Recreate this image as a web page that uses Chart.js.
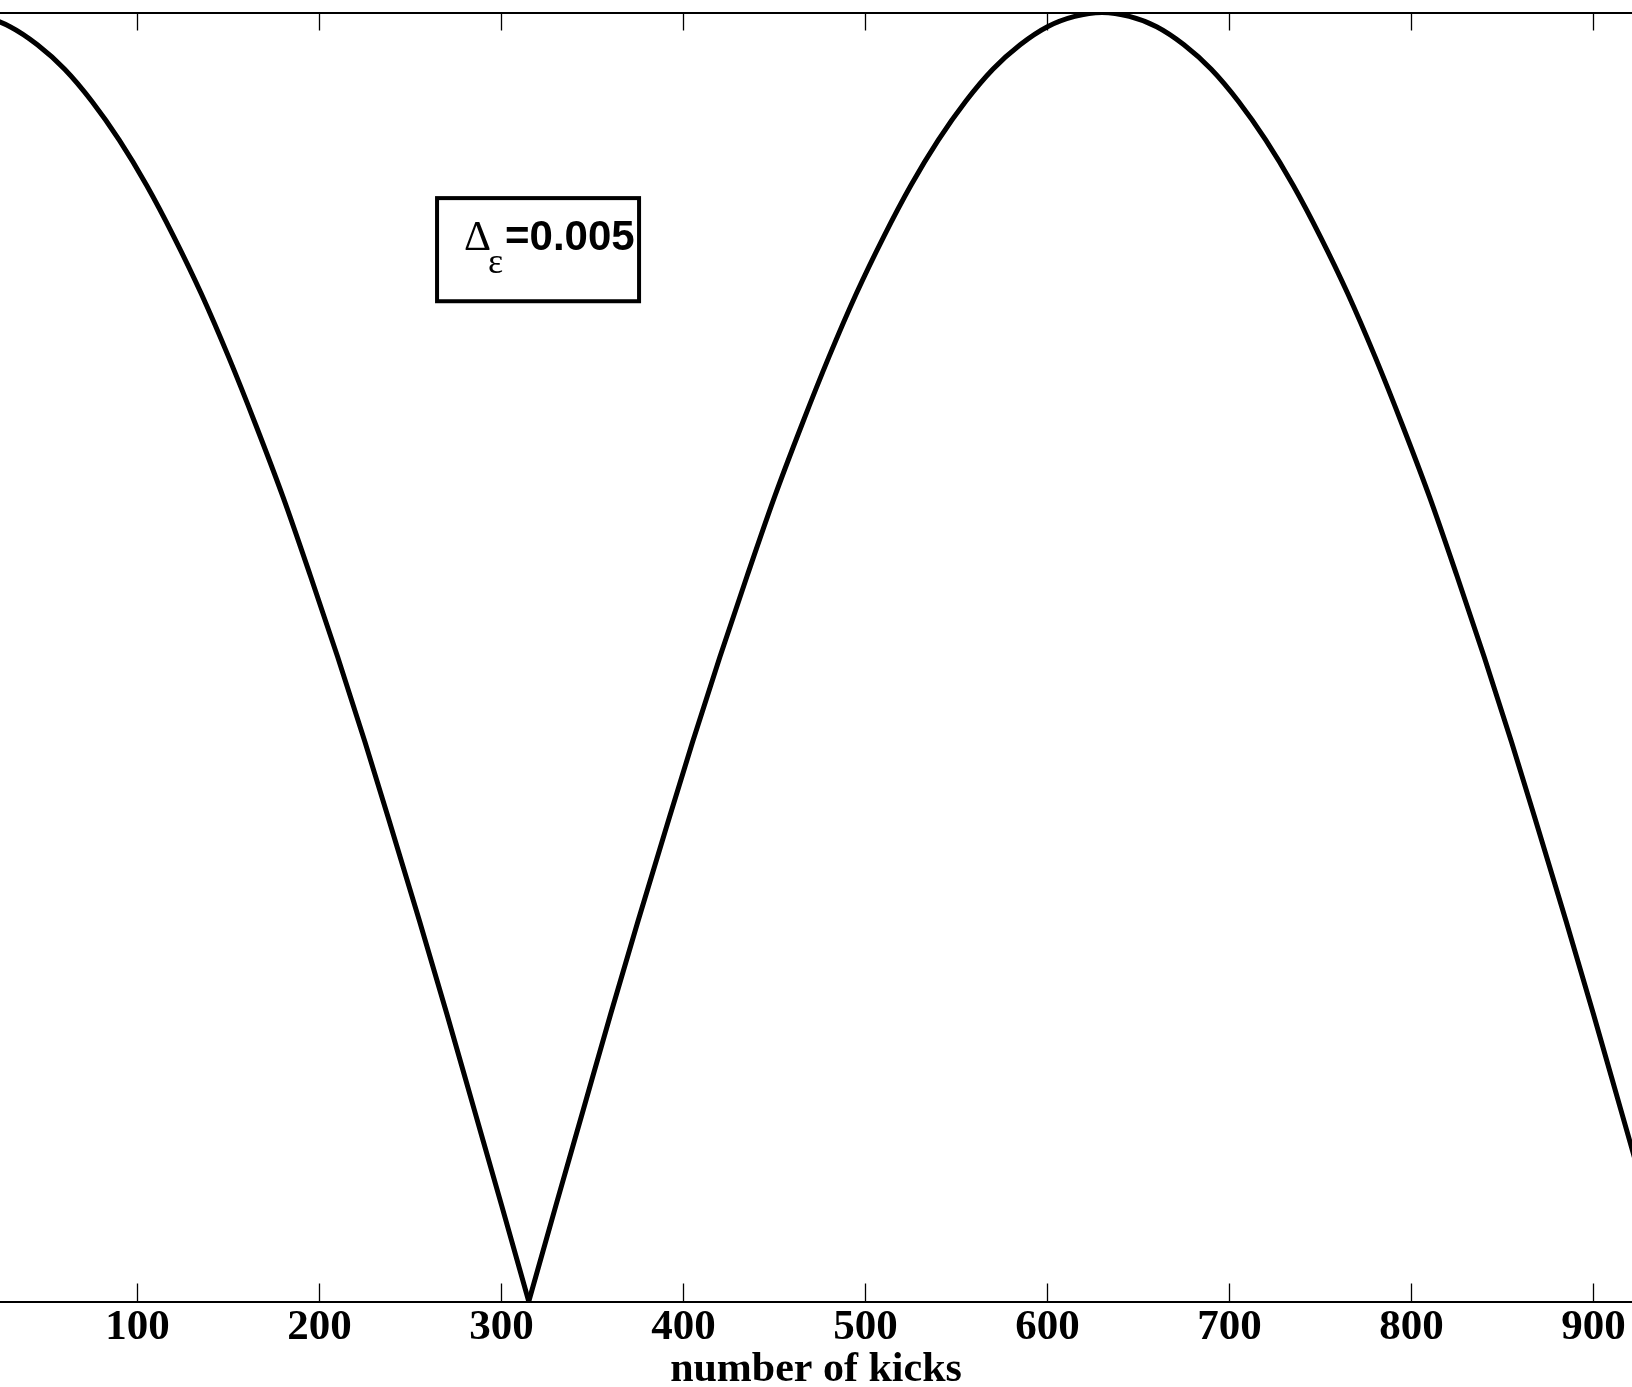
<!DOCTYPE html>
<html>
<head>
<meta charset="utf-8">
<script src="https://cdn.jsdelivr.net/npm/chart.js@4.4.1/dist/chart.umd.min.js"></script>
<style>
  html, body { margin: 0; padding: 0; background: #fff; }
  canvas { display: block; }
</style>
</head>
<body>
<canvas id="kicksChart" width="1632" height="1387"></canvas>
<script>
// valeurs
const kicks = [0, 15, 30, 45, 60, 75, 90, 105, 120, 135, 150, 165, 180, 195, 210, 225, 240, 255, 270, 285, 300, 315,
  330, 345, 360, 375, 390, 405, 420, 435, 450, 465, 480, 495, 510, 525, 540, 555, 570, 585, 600, 615, 630,
  645, 660, 675, 690, 705, 720, 735, 750, 765, 780, 795, 810, 825, 840, 855, 870, 885, 900, 915, 930];
const fidelity = [1.000, 0.997, 0.989, 0.975, 0.956, 0.931, 0.901, 0.866, 0.826, 0.782, 0.733, 0.680, 0.624, 0.563, 0.500, 0.434, 0.365, 0.295, 0.223, 0.149, 0.075, 0.000,
  0.075, 0.149, 0.223, 0.295, 0.365, 0.434, 0.500, 0.563, 0.624, 0.680, 0.733, 0.782, 0.826, 0.866, 0.901, 0.931, 0.956, 0.975, 0.989, 0.997, 1.000,
  0.997, 0.989, 0.975, 0.956, 0.931, 0.901, 0.866, 0.826, 0.782, 0.733, 0.680, 0.624, 0.563, 0.500, 0.434, 0.365, 0.295, 0.223, 0.149, 0.075];
const tickValues = [100, 200, 300, 400, 500, 600, 700, 800, 900];
const xRange = [24.45, 921.2];
const yRange = [0, 1];

// la courbe est coupée au creux (valeur 0) pour garder la pointe nette
const points = kicks.map((k, i) => ({x: k, y: fidelity[i]}));
const cusp = fidelity.indexOf(0);

// petits traits de graduation vers l'intérieur, en haut et en bas
const innerTicks = {
  id: 'innerTicks',
  afterDraw(chart) {
    const ctx = chart.ctx, x = chart.scales.x, area = chart.chartArea;
    ctx.save();
    ctx.strokeStyle = '#000';
    ctx.lineWidth = 1.3;
    x.ticks.forEach(t => {
      const px = Math.round(x.getPixelForValue(t.value)) + 0.5;
      ctx.beginPath();
      ctx.moveTo(px, area.bottom);
      ctx.lineTo(px, area.bottom - 18);
      ctx.moveTo(px, area.top);
      ctx.lineTo(px, area.top + 18);
      ctx.stroke();
    });
    ctx.restore();
  }
};

// cadre "Δε=0.005"
const deltaBox = {
  id: 'deltaBox',
  afterDatasetsDraw(chart) {
    const {ctx, scales: {x, y}} = chart;
    const left = x.getPixelForValue(264.6), right = x.getPixelForValue(375.6);
    const top = y.getPixelForValue(0.856), bottom = y.getPixelForValue(0.776);
    ctx.save();
    ctx.lineWidth = 4;
    ctx.strokeStyle = '#000';
    ctx.strokeRect(left, top, right - left, bottom - top);
    ctx.fillStyle = '#000';
    ctx.textBaseline = 'alphabetic';
    ctx.font = '42px "Liberation Serif"';
    ctx.fillText('Δ', left + 27, top + 52);
    ctx.font = '36px "Liberation Serif"';
    ctx.fillText('ε', left + 51, top + 75);
    ctx.font = 'bold 42px "Liberation Sans"';
    ctx.fillText('=0.005', left + 68, top + 52);
    ctx.restore();
  }
};

const lineStyle = {
  borderColor: '#000',
  borderWidth: 5,
  pointRadius: 0,
  fill: false,
  cubicInterpolationMode: 'monotone'
};

new Chart(document.getElementById('kicksChart'), {
  type: 'line',
  data: {
    datasets: [
      Object.assign({ data: points.slice(0, cusp + 1) }, lineStyle),
      Object.assign({ data: points.slice(cusp) }, lineStyle)
    ]
  },
  options: {
    responsive: false,
    animation: false,
    devicePixelRatio: 1,
    layout: { padding: { top: 12.5, bottom: 4, left: 0, right: 0 } },
    plugins: { legend: { display: false }, tooltip: { enabled: false } },
    scales: {
      x: {
        type: 'linear',
        position: 'bottom',
        min: xRange[0],
        max: xRange[1],
        afterBuildTicks: axis => { axis.ticks = tickValues.map(v => ({value: v})); },
        grid: { drawOnChartArea: false, drawTicks: false },
        border: { color: '#000', width: 2 },
        ticks: {
          color: '#000',
          padding: 5,
          maxRotation: 0,
          autoSkip: false,
          font: { family: 'Liberation Serif', weight: 'bold', size: 43, lineHeight: '43px' }
        },
        title: {
          display: true,
          text: 'number of kicks',
          color: '#000',
          padding: { top: 3.5, bottom: 0 },
          font: { family: 'Liberation Serif', weight: 'bold', size: 42, lineHeight: '25px' }
        }
      },
      x2: {
        type: 'linear',
        position: 'top',
        min: xRange[0],
        max: xRange[1],
        ticks: { display: false },
        grid: { drawOnChartArea: false, drawTicks: false },
        border: { color: '#000', width: 2 }
      },
      y: { display: false, min: yRange[0], max: yRange[1] }
    }
  },
  plugins: [innerTicks, deltaBox]
});
</script>
</body>
</html>
